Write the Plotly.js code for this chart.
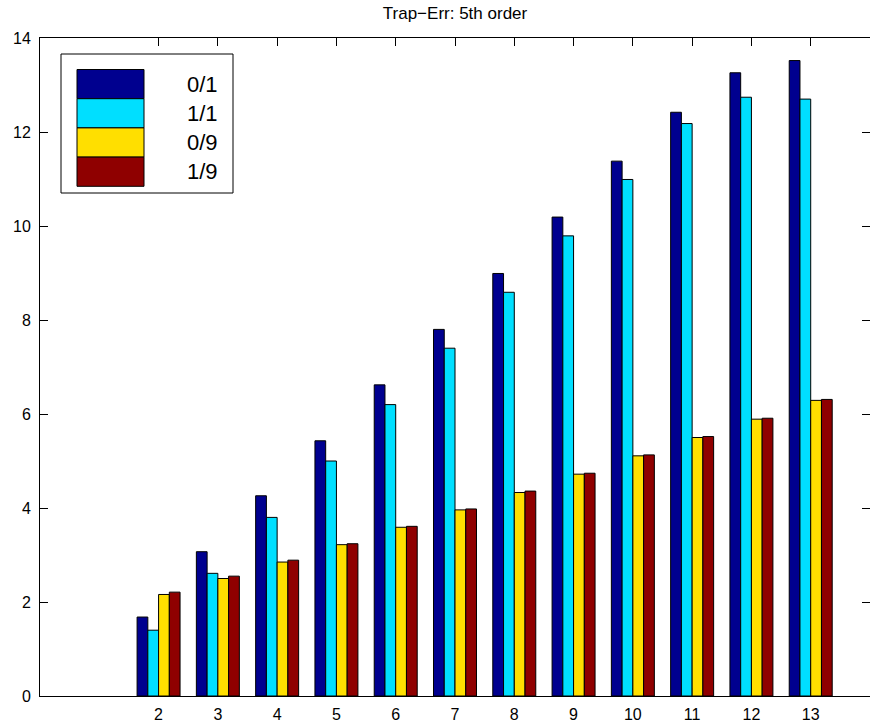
<!DOCTYPE html>
<html>
<head>
<meta charset="utf-8">
<script src="https://cdn.plot.ly/plotly-3.0.1.min.js"></script>
<style>html,body{margin:0;padding:0;background:#fff;}#chart{width:870px;height:724px;}</style>
</head>
<body>
<div id="chart"></div>
<script>
// ---- data ----
const categories = [2, 3, 4, 5, 6, 7, 8, 9, 10, 11, 12, 13];
const seriesNames = ['0/1', '1/1', '0/9', '1/9'];
const s01 = [1.68, 3.07, 4.26, 5.43, 6.62, 7.80, 8.99, 10.19, 11.38, 12.42, 13.26, 13.52];
const s11 = [1.40, 2.61, 3.80, 5.00, 6.20, 7.40, 8.59, 9.79, 10.99, 12.18, 12.74, 12.70];
const s09 = [2.16, 2.50, 2.85, 3.22, 3.59, 3.96, 4.33, 4.72, 5.11, 5.50, 5.89, 6.29];
const s19 = [2.21, 2.55, 2.89, 3.24, 3.61, 3.98, 4.36, 4.74, 5.13, 5.52, 5.91, 6.31];
const yTicks = [0, 2, 4, 6, 8, 10, 12, 14];
const colors = ['#00008F', '#00DFFF', '#FFDF00', '#8F0000'];
const titleText = 'Trap\u2212Err: 5th order';

const allSeries = [s01, s11, s09, s19];
const FONT = 'Liberation Sans, Arial, Helvetica, sans-serif';

const traces = allSeries.map((vals, i) => ({
  type: 'bar',
  x: categories,
  y: vals,
  name: seriesNames[i],
  marker: {color: colors[i], line: {color: '#000', width: 1}},
  showlegend: false,
  hoverinfo: 'x+y+name'
}));

// plot area geometry (pixels) for legend decoration
const L = 40, T = 38, W = 830, H = 658;
const px = x => (x - L) / W;
const py = y => (T + H - y) / H;

const shapes = [];
const annotations = [];
// legend box
shapes.push({type: 'rect', xref: 'paper', yref: 'paper',
  x0: px(61), x1: px(233), y0: py(54), y1: py(193),
  line: {color: '#000', width: 1}, fillcolor: '#fff', layer: 'above'});
const swTop = 69.5, swH = 29.2;
seriesNames.forEach((nm, i) => {
  const y0 = swTop + i * swH, y1 = y0 + swH;
  shapes.push({type: 'rect', xref: 'paper', yref: 'paper',
    x0: px(77), x1: px(144), y0: py(y1), y1: py(y0),
    line: {color: '#000', width: 1}, fillcolor: colors[i], layer: 'above'});
  annotations.push({xref: 'paper', yref: 'paper', x: px(220), y: py((y0 + y1) / 2),
    xanchor: 'right', yanchor: 'middle', text: nm, showarrow: false,
    font: {family: FONT, size: 22, color: '#000'}});
});

const layout = {
  width: 870, height: 724,
  margin: {l: L, r: 0, t: T, b: 724 - T - H, pad: 0},
  paper_bgcolor: '#fff', plot_bgcolor: '#fff',
  font: {family: FONT, size: 16, color: '#000'},
  title: {text: titleText, x: 0.5, xref: 'paper', xanchor: 'center',
    y: 1 - 13 / 724, yref: 'container', yanchor: 'middle',
    font: {family: FONT, size: 17, color: '#000'}},
  barmode: 'group', bargap: 0.275, bargroupgap: 0,
  xaxis: {range: [0, 14], tickvals: categories, ticktext: categories.map(String),
    ticks: 'inside', ticklen: 8, tickcolor: '#000', tickwidth: 1,
    showline: true, linecolor: '#000', linewidth: 1, mirror: 'ticks',
    showgrid: false, zeroline: false, layer: 'below traces', ticklabelstandoff: 4,
    tickfont: {family: FONT, size: 16, color: '#000'}, fixedrange: true},
  yaxis: {range: [0, 14], tickvals: yTicks, ticktext: yTicks.map(String),
    ticks: 'inside', ticklen: 8, tickcolor: '#000', tickwidth: 1,
    showline: true, linecolor: '#000', linewidth: 1, mirror: 'ticks',
    showgrid: false, zeroline: false, layer: 'below traces', ticklabelstandoff: 5,
    tickfont: {family: FONT, size: 16, color: '#000'}, fixedrange: true},
  shapes: shapes,
  annotations: annotations,
  showlegend: false
};

Plotly.newPlot('chart', traces, layout, {displayModeBar: false, staticPlot: true});
</script>
</body>
</html>
